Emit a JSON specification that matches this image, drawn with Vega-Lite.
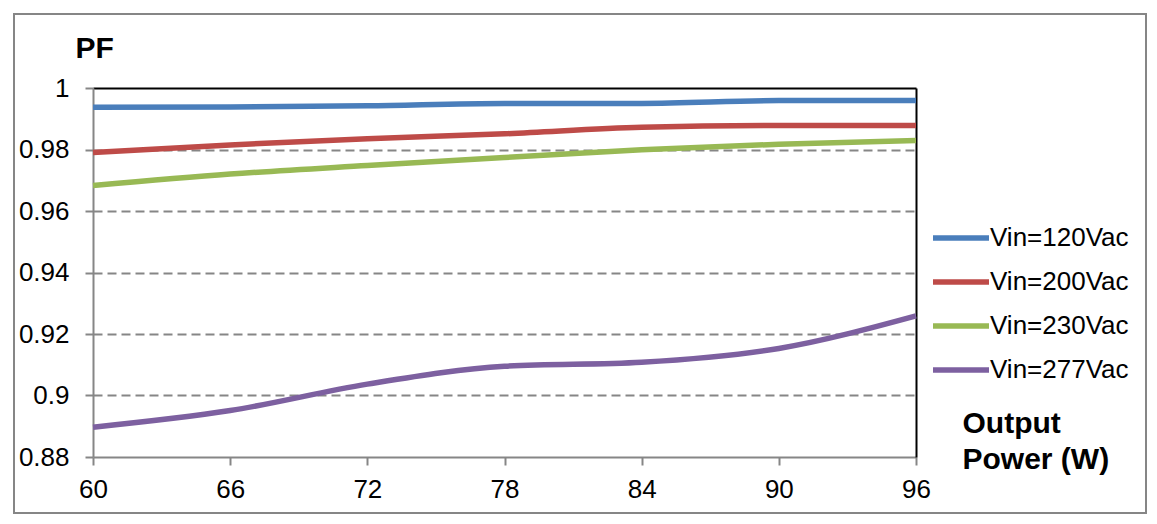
{
  "$schema": "https://vega.github.io/schema/vega-lite/v6.json",
  "width": 1132,
  "height": 499,
  "autosize": "none",
  "padding": {"left": 14, "top": 14, "right": 11, "bottom": 11},
  "background": "white",
  "config": {
    "view": {"stroke": "#868686", "strokeWidth": 2},
    "font": "Liberation Sans"
  },
  "data": {
    "values": [
      {"P": 60, "PF": 0.9937, "s": "Vin=120Vac"},
      {"P": 66, "PF": 0.9938, "s": "Vin=120Vac"},
      {"P": 72, "PF": 0.9942, "s": "Vin=120Vac"},
      {"P": 78, "PF": 0.995, "s": "Vin=120Vac"},
      {"P": 84, "PF": 0.995, "s": "Vin=120Vac"},
      {"P": 90, "PF": 0.9959, "s": "Vin=120Vac"},
      {"P": 96, "PF": 0.9959, "s": "Vin=120Vac"},
      {"P": 60, "PF": 0.979, "s": "Vin=200Vac"},
      {"P": 66, "PF": 0.9815, "s": "Vin=200Vac"},
      {"P": 72, "PF": 0.9835, "s": "Vin=200Vac"},
      {"P": 78, "PF": 0.9851, "s": "Vin=200Vac"},
      {"P": 84, "PF": 0.9872, "s": "Vin=200Vac"},
      {"P": 90, "PF": 0.9878, "s": "Vin=200Vac"},
      {"P": 96, "PF": 0.9878, "s": "Vin=200Vac"},
      {"P": 60, "PF": 0.9683, "s": "Vin=230Vac"},
      {"P": 66, "PF": 0.972, "s": "Vin=230Vac"},
      {"P": 72, "PF": 0.9748, "s": "Vin=230Vac"},
      {"P": 78, "PF": 0.9774, "s": "Vin=230Vac"},
      {"P": 84, "PF": 0.9799, "s": "Vin=230Vac"},
      {"P": 90, "PF": 0.9817, "s": "Vin=230Vac"},
      {"P": 96, "PF": 0.9829, "s": "Vin=230Vac"},
      {"P": 60, "PF": 0.8897, "s": "Vin=277Vac"},
      {"P": 66, "PF": 0.8951, "s": "Vin=277Vac"},
      {"P": 72, "PF": 0.9037, "s": "Vin=277Vac"},
      {"P": 78, "PF": 0.9095, "s": "Vin=277Vac"},
      {"P": 84, "PF": 0.9108, "s": "Vin=277Vac"},
      {"P": 90, "PF": 0.9153, "s": "Vin=277Vac"},
      {"P": 96, "PF": 0.9259, "s": "Vin=277Vac"}
    ]
  },
  "layer": [
    {
      "mark": {"type": "line", "opacity": 0},
      "encoding": {
        "x": {
          "field": "P",
          "type": "quantitative",
          "scale": {"domain": [60, 96], "range": [79, 902], "nice": false, "zero": false},
          "axis": {
            "orient": "top",
            "offset": -74,
            "title": null,
            "labels": false,
            "ticks": false,
            "grid": false,
            "domainColor": "black",
            "domainWidth": 2
          }
        },
        "y": {
          "field": "PF",
          "type": "quantitative",
          "scale": {"domain": [0.88, 1], "range": [443, 74], "nice": false, "zero": false},
          "axis": {
            "orient": "right",
            "offset": -230,
            "title": null,
            "labels": false,
            "ticks": false,
            "grid": false,
            "domainColor": "black",
            "domainWidth": 2
          }
        },
        "detail": {"field": "s"}
      }
    },
    {
      "mark": {"type": "line", "interpolate": "monotone", "strokeWidth": 5.5},
      "encoding": {
        "x": {
          "field": "P",
          "type": "quantitative",
          "scale": {"domain": [60, 96], "range": [79, 902], "nice": false, "zero": false},
          "axis": {
            "orient": "bottom",
            "offset": -56,
            "values": [60, 66, 72, 78, 84, 90, 96],
            "grid": false,
            "domainColor": "#868686",
            "domainWidth": 2,
            "tickColor": "#868686",
            "tickWidth": 2,
            "tickSize": 8,
            "labelFontSize": 26,
            "labelColor": "black",
            "labelPadding": 11,
            "labelFlush": false,
            "title": ["Output", "Power (W)"],
            "titleFontSize": 30,
            "titleFontWeight": "bold",
            "titleColor": "black",
            "titleAlign": "left",
            "titleBaseline": "alphabetic",
            "titleAnchor": "start",
            "titleX": 948,
            "titleY": -25,
            "titleLineHeight": 36
          }
        },
        "y": {
          "field": "PF",
          "type": "quantitative",
          "scale": {"domain": [0.88, 1], "range": [443, 74], "nice": false, "zero": false},
          "axis": {
            "orient": "left",
            "offset": -79,
            "values": [0.88, 0.9, 0.92, 0.94, 0.96, 0.98, 1],
            "format": ".2~f",
            "domainColor": "#868686",
            "domainWidth": 2,
            "tickColor": "#868686",
            "tickWidth": 2,
            "tickSize": 8,
            "labelFontSize": 26,
            "labelColor": "black",
            "labelPadding": 16,
            "labelFlush": false,
            "grid": true,
            "gridColor": "#868686",
            "gridWidth": 2,
            "gridDash": [9, 5],
            "gridOpacity": {
              "condition": {"test": "datum.value > 0.999 || datum.value < 0.881", "value": 0},
              "value": 1
            },
            "title": "PF",
            "titleFontSize": 30,
            "titleFontWeight": "bold",
            "titleColor": "black",
            "titleAngle": 0,
            "titleAlign": "left",
            "titleBaseline": "alphabetic",
            "titleX": -18,
            "titleY": 43
          }
        },
        "color": {
          "field": "s",
          "type": "nominal",
          "scale": {
            "domain": ["Vin=120Vac", "Vin=200Vac", "Vin=230Vac", "Vin=277Vac"],
            "range": ["#4A7EBB", "#BE4B48", "#98B954", "#7D60A0"]
          },
          "legend": {
            "orient": "none",
            "legendX": 930,
            "legendY": 207,
            "title": null,
            "symbolType": "M-2,0H2",
            "symbolSize": 784,
            "symbolStrokeWidth": 5.5,
            "labelFontSize": 26,
            "labelColor": "black",
            "labelOffset": 12,
            "rowPadding": 14
          }
        }
      }
    }
  ],
  "resolve": {"axis": {"x": "independent", "y": "independent"}}
}
